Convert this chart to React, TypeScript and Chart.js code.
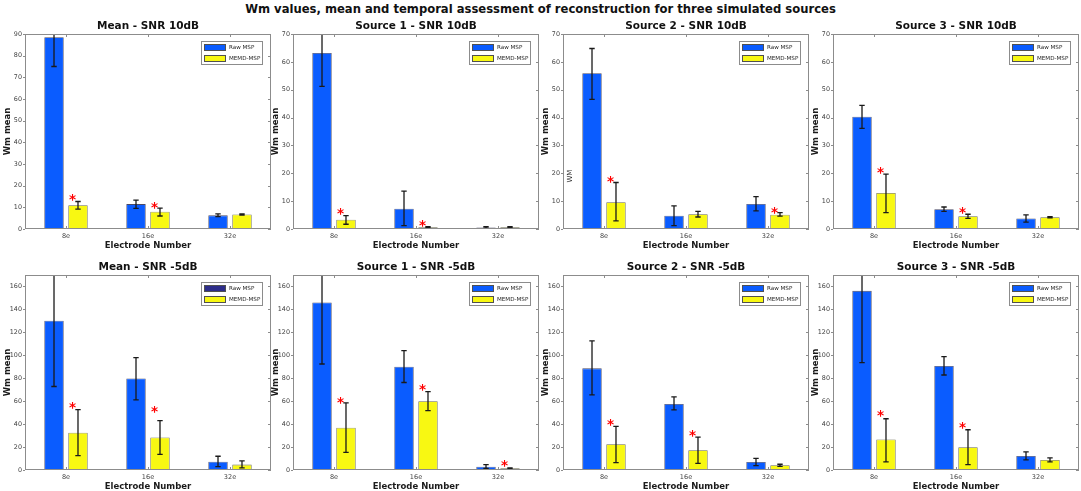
import React, { useEffect, useRef } from 'react';
import { Chart, registerables } from 'chart.js';

Chart.register(...registerables);

const FONT = '"DejaVu Sans", Verdana, sans-serif';
const BLUE = '#0a5cff';
const YELLOW = '#f8f812';
const NAVY = '#2d2d8a';

const electrodes = ['8e', '16e', '32e'];
const seriesNames = ['Raw MSP', 'MEMD-MSP'];

// Mean - SNR 10dB
const mean10Raw = [88.5, 11.5, 6.3];
const mean10RawLo = [75, 9.5, 5.7];
const mean10RawHi = [102, 13.3, 7.0];
const mean10Memd = [11, 8, 6.7];
const mean10MemdLo = [9.2, 6.0, 6.4];
const mean10MemdHi = [12.7, 9.6, 7.0];
const mean10Stars = [14.8, 11.4, null];

// Source 1 - SNR 10dB
const src1_10Raw = [63.2, 7.3, 0.5];
const src1_10RawLo = [51.2, 1.2, 0.2];
const src1_10RawHi = [75.2, 13.6, 0.8];
const src1_10Memd = [3.3, 0.6, 0.6];
const src1_10MemdLo = [1.7, 0.4, 0.3];
const src1_10MemdHi = [4.8, 0.8, 0.8];
const src1_10Stars = [6.5, 2.3, null];

// Source 2 - SNR 10dB
const src2_10Raw = [55.9, 4.8, 9.0];
const src2_10RawLo = [46.5, 1.2, 6.5];
const src2_10RawHi = [64.8, 8.3, 11.6];
const src2_10Memd = [9.6, 5.3, 5.1];
const src2_10MemdLo = [2.9, 4.3, 4.6];
const src2_10MemdHi = [16.7, 6.3, 5.9];
const src2_10Stars = [18, null, 7.1];

// Source 3 - SNR 10dB
const src3_10Raw = [40.3, 7.1, 3.8];
const src3_10RawLo = [36.1, 6.3, 2.5];
const src3_10RawHi = [44.4, 7.9, 5.1];
const src3_10Memd = [12.9, 4.6, 4.2];
const src3_10MemdLo = [5.9, 3.8, 4.0];
const src3_10MemdHi = [19.7, 5.3, 4.4];
const src3_10Stars = [21.5, 6.9, null];

// Mean - SNR -5dB
const meanM5Raw = [130.2, 79.8, 7.3];
const meanM5RawLo = [72.8, 61.1, 2.9];
const meanM5RawHi = [187.6, 98, 12];
const meanM5Memd = [32.5, 28.4, 4.7];
const meanM5MemdLo = [12.6, 13.7, 1.8];
const meanM5MemdHi = [52.6, 43, 7.9];
const meanM5Stars = [57, 53.5, null];

// Source 1 - SNR -5dB
const src1_M5Raw = [146, 90.1, 2.9];
const src1_M5RawLo = [92.4, 76.3, 1.5];
const src1_M5RawHi = [199.6, 104.1, 4.7];
const src1_M5Memd = [36.9, 60, 1.5];
const src1_M5MemdLo = [15.3, 51.8, 1.2];
const src1_M5MemdHi = [58.5, 68.4, 1.8];
const src1_M5Stars = [61.1, 72.8, 6.7];

// Source 2 - SNR -5dB
const src2_M5Raw = [88.6, 57.6, 7.0];
const src2_M5RawLo = [65.5, 52.4, 3.8];
const src2_M5RawHi = [112.6, 63.8, 10.2];
const src2_M5Memd = [22.5, 17.3, 4.1];
const src2_M5MemdLo = [6.4, 5.8, 3.2];
const src2_M5MemdHi = [38, 28.7, 5.0];
const src2_M5Stars = [42.1, 33, null];

// Source 3 - SNR -5dB
const src3_M5Raw = [156.2, 90.7, 12.3];
const src3_M5RawLo = [93.6, 82.8, 8.8];
const src3_M5RawHi = [218.8, 98.9, 15.8];
const src3_M5Memd = [26.6, 19.9, 8.8];
const src3_M5MemdLo = [7.0, 4.7, 7.0];
const src3_M5MemdHi = [44.7, 35.1, 10.5];
const src3_M5Stars = [50, 39.8, null];

const PLOT_W = 246;
const PLOT_H = 195;
const AXIS_W = 25;
const PAD_TOP = 22;
const AXIS_H = 22;
const PAD_RIGHT = 4;

interface PanelProps {
  title: string;
  left: number;
  top: number;
  yMax: number;
  yStep: number;
  raw: number[];
  rawLo: number[];
  rawHi: number[];
  memd: number[];
  memdLo: number[];
  memdHi: number[];
  stars: (number | null)[];
  rawSwatch?: string;
  note?: { text: string; value: number };
}

// draws error bars, box, stars, legend and the panel title
const decorPlugin = {
  id: 'decor',
  afterDraw(chart: any, _args: any, opts: any) {
    const { ctx, chartArea: a, scales } = chart;
    const y = scales.y;
    const x = scales.x;
    ctx.save();

    // error bars
    ctx.save();
    ctx.beginPath();
    ctx.rect(a.left, a.top, a.right - a.left, a.bottom - a.top);
    ctx.clip();
    ctx.strokeStyle = '#1a1a1a';
    ctx.lineWidth = 1.3;
    chart.data.datasets.forEach((ds: any, di: number) => {
      const meta = chart.getDatasetMeta(di);
      meta.data.forEach((bar: any, i: number) => {
        const lo = y.getPixelForValue(ds.lo[i]);
        const hi = y.getPixelForValue(ds.hi[i]);
        ctx.beginPath();
        ctx.moveTo(bar.x, lo);
        ctx.lineTo(bar.x, hi);
        ctx.moveTo(bar.x - 2.7, lo);
        ctx.lineTo(bar.x + 2.7, lo);
        ctx.moveTo(bar.x - 2.7, hi);
        ctx.lineTo(bar.x + 2.7, hi);
        ctx.stroke();
      });
    });
    ctx.restore();

    // box and ticks
    ctx.strokeStyle = '#8c8c8c';
    ctx.lineWidth = 1;
    ctx.strokeRect(a.left + 0.5, a.top + 0.5, a.right - a.left - 1, a.bottom - a.top - 1);
    ctx.beginPath();
    y.ticks.forEach((t: any) => {
      const py = Math.round(y.getPixelForValue(t.value)) + 0.5;
      ctx.moveTo(a.left - 2, py);
      ctx.lineTo(a.left, py);
      ctx.moveTo(a.right, py);
      ctx.lineTo(a.right - 3, py);
    });
    x.ticks.forEach((_t: any, i: number) => {
      const px = Math.round(x.getPixelForValue(i)) + 0.5;
      ctx.moveTo(px, a.bottom);
      ctx.lineTo(px, a.bottom - 3);
      ctx.moveTo(px, a.top);
      ctx.lineTo(px, a.top + 3);
    });
    ctx.stroke();

    // significance stars
    const memdMeta = chart.getDatasetMeta(1);
    ctx.fillStyle = '#ff0000';
    ctx.font = `bold 13.5px ${FONT}`;
    ctx.textAlign = 'center';
    ctx.textBaseline = 'alphabetic';
    (opts.stars || []).forEach((v: number | null, i: number) => {
      if (v === null || v === undefined) return;
      const bar = memdMeta.data[i];
      ctx.fillText('*', bar.x - 5.5, y.getPixelForValue(v) + 7.5);
    });

    // stray label
    if (opts.note) {
      ctx.save();
      ctx.translate(a.left + 7, y.getPixelForValue(opts.note.value));
      ctx.rotate(-Math.PI / 2);
      ctx.fillStyle = '#333';
      ctx.font = `7px ${FONT}`;
      ctx.textAlign = 'center';
      ctx.textBaseline = 'middle';
      ctx.fillText(opts.note.text, 0, 0);
      ctx.restore();
    }

    // legend
    const lw = 62;
    const lh = 24;
    const lx = a.right - 8 - lw;
    const ly = a.top + 7;
    ctx.fillStyle = '#ffffff';
    ctx.fillRect(lx, ly, lw, lh);
    ctx.strokeStyle = '#8c8c8c';
    ctx.strokeRect(lx + 0.5, ly + 0.5, lw - 1, lh - 1);
    chart.data.datasets.forEach((ds: any, di: number) => {
      const cy = ly + 6.5 + di * 11;
      const sw = di === 0 && opts.rawSwatch ? opts.rawSwatch : ds.backgroundColor;
      ctx.fillStyle = sw;
      ctx.fillRect(lx + 3, cy - 3.5, 22, 7);
      ctx.strokeStyle = '#505050';
      ctx.strokeRect(lx + 3.5, cy - 3, 21, 6);
      ctx.fillStyle = '#262626';
      ctx.font = `5.6px ${FONT}`;
      ctx.textAlign = 'left';
      ctx.textBaseline = 'middle';
      ctx.fillText(ds.label, lx + 28, cy + 0.5);
    });

    // panel title
    ctx.fillStyle = '#111';
    ctx.font = `bold 10.5px ${FONT}`;
    ctx.textAlign = 'center';
    ctx.textBaseline = 'middle';
    ctx.fillText(opts.title, (a.left + a.right) / 2, a.top - 8);

    ctx.restore();
  },
};

const Panel: React.FC<PanelProps> = (p) => {
  const canvasRef = useRef<HTMLCanvasElement>(null);

  useEffect(() => {
    if (!canvasRef.current) return;
    const step = p.yStep;
    const chart = new Chart(canvasRef.current, {
      type: 'bar',
      data: {
        labels: electrodes,
        datasets: [
          {
            label: seriesNames[0],
            data: p.raw,
            lo: p.rawLo,
            hi: p.rawHi,
            backgroundColor: BLUE,
            borderColor: '#4a4a66',
            borderWidth: 0.8,
            categoryPercentage: 0.585,
            barPercentage: 0.81,
          } as any,
          {
            label: seriesNames[1],
            data: p.memd,
            lo: p.memdLo,
            hi: p.memdHi,
            backgroundColor: YELLOW,
            borderColor: '#6a6a50',
            borderWidth: 0.8,
            categoryPercentage: 0.585,
            barPercentage: 0.81,
          } as any,
        ],
      },
      options: {
        responsive: true,
        maintainAspectRatio: false,
        animation: false,
        events: [],
        layout: { padding: { top: PAD_TOP, right: PAD_RIGHT, left: 0, bottom: 0 } },
        plugins: {
          legend: { display: false },
          title: { display: false },
          tooltip: { enabled: false },
          decor: { stars: p.stars, title: p.title, rawSwatch: p.rawSwatch, note: p.note },
        } as any,
        scales: {
          x: {
            grid: { display: false, drawTicks: false },
            border: { display: false },
            afterFit: (s: any) => {
              s.height = AXIS_H;
            },
            ticks: { padding: 3, color: '#404040', font: { family: FONT, size: 6.5 } },
            title: {
              display: true,
              text: 'Electrode Number',
              color: '#1a1a1a',
              font: { family: FONT, size: 8.5, weight: 'bold' },
              padding: { top: 0, bottom: 0 },
            },
          },
          y: {
            min: 0,
            max: p.yMax,
            grid: { display: false, drawTicks: false },
            border: { display: false },
            afterFit: (s: any) => {
              s.width = AXIS_W;
            },
            afterBuildTicks: (s: any) => {
              s.ticks = s.ticks.filter((t: any) => Math.abs(t.value / step - Math.round(t.value / step)) < 1e-6);
            },
            ticks: { stepSize: step, padding: 3, color: '#404040', font: { family: FONT, size: 6.4 } },
            title: {
              display: true,
              text: 'Wm mean',
              color: '#1a1a1a',
              font: { family: FONT, size: 8.5, weight: 'bold' },
              padding: { top: 3, bottom: 0 },
            },
          },
        },
      },
      plugins: [decorPlugin],
    });
    return () => chart.destroy();
  }, []);

  return (
    <div
      style={{
        position: 'absolute',
        left: p.left - AXIS_W,
        top: p.top - PAD_TOP,
        width: AXIS_W + PLOT_W + PAD_RIGHT,
        height: PAD_TOP + PLOT_H + AXIS_H,
      }}
    >
      <canvas ref={canvasRef} />
    </div>
  );
};

const colLeft = [25, 293, 563, 833];
const rowTop = [34, 275];

const App: React.FC = () => {
  return (
    <div
      style={{
        position: 'absolute',
        left: 0,
        top: 0,
        width: 1081,
        height: 491,
        background: '#fff',
        overflow: 'hidden',
      }}
    >
      <div
        style={{
          position: 'absolute',
          left: 0,
          top: 1,
          width: 1081,
          textAlign: 'center',
          fontFamily: FONT,
          fontWeight: 'bold',
          fontSize: 11.6,
          lineHeight: '16px',
          color: '#111',
        }}
      >
        Wm values, mean and temporal assessment of reconstruction for three simulated sources
      </div>
      <Panel title="Mean - SNR 10dB" left={colLeft[0]} top={rowTop[0]} yMax={90} yStep={10}
        raw={mean10Raw} rawLo={mean10RawLo} rawHi={mean10RawHi}
        memd={mean10Memd} memdLo={mean10MemdLo} memdHi={mean10MemdHi} stars={mean10Stars} />
      <Panel title="Source 1 - SNR 10dB" left={colLeft[1]} top={rowTop[0]} yMax={70} yStep={10}
        raw={src1_10Raw} rawLo={src1_10RawLo} rawHi={src1_10RawHi}
        memd={src1_10Memd} memdLo={src1_10MemdLo} memdHi={src1_10MemdHi} stars={src1_10Stars} />
      <Panel title="Source 2 - SNR 10dB" left={colLeft[2]} top={rowTop[0]} yMax={70} yStep={10}
        raw={src2_10Raw} rawLo={src2_10RawLo} rawHi={src2_10RawHi}
        memd={src2_10Memd} memdLo={src2_10MemdLo} memdHi={src2_10MemdHi} stars={src2_10Stars}
        note={{ text: 'WM', value: 19 }} />
      <Panel title="Source 3 - SNR 10dB" left={colLeft[3]} top={rowTop[0]} yMax={70} yStep={10}
        raw={src3_10Raw} rawLo={src3_10RawLo} rawHi={src3_10RawHi}
        memd={src3_10Memd} memdLo={src3_10MemdLo} memdHi={src3_10MemdHi} stars={src3_10Stars} />
      <Panel title="Mean - SNR -5dB" left={colLeft[0]} top={rowTop[1]} yMax={170} yStep={20}
        raw={meanM5Raw} rawLo={meanM5RawLo} rawHi={meanM5RawHi}
        memd={meanM5Memd} memdLo={meanM5MemdLo} memdHi={meanM5MemdHi} stars={meanM5Stars}
        rawSwatch={NAVY} />
      <Panel title="Source 1 - SNR -5dB" left={colLeft[1]} top={rowTop[1]} yMax={170} yStep={20}
        raw={src1_M5Raw} rawLo={src1_M5RawLo} rawHi={src1_M5RawHi}
        memd={src1_M5Memd} memdLo={src1_M5MemdLo} memdHi={src1_M5MemdHi} stars={src1_M5Stars} />
      <Panel title="Source 2 - SNR -5dB" left={colLeft[2]} top={rowTop[1]} yMax={170} yStep={20}
        raw={src2_M5Raw} rawLo={src2_M5RawLo} rawHi={src2_M5RawHi}
        memd={src2_M5Memd} memdLo={src2_M5MemdLo} memdHi={src2_M5MemdHi} stars={src2_M5Stars} />
      <Panel title="Source 3 - SNR -5dB" left={colLeft[3]} top={rowTop[1]} yMax={170} yStep={20}
        raw={src3_M5Raw} rawLo={src3_M5RawLo} rawHi={src3_M5RawHi}
        memd={src3_M5Memd} memdLo={src3_M5MemdLo} memdHi={src3_M5MemdHi} stars={src3_M5Stars} />
    </div>
  );
};

export default App;
